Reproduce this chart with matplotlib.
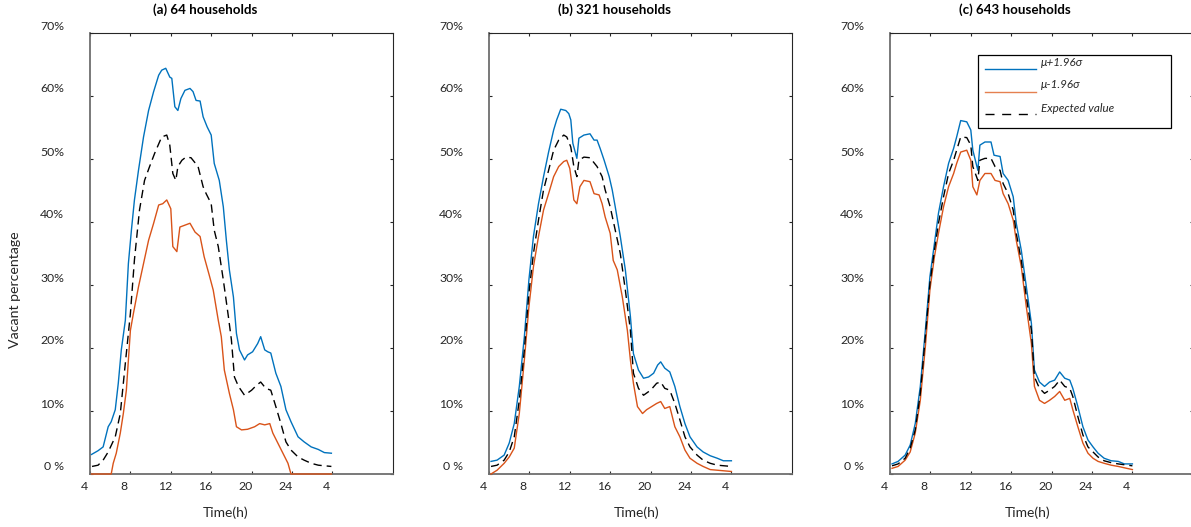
import matplotlib
matplotlib.use('Agg')
import matplotlib.pyplot as plt
from matplotlib.transforms import ScaledTranslation
from matplotlib.lines import Line2D
from matplotlib.patches import Rectangle

plt.rcParams['font.family'] = ['Lato', 'DejaVu Sans']

# ---------------- data (vacant percentage, %) ----------------
titles = ['(a) 64 households', '(b) 321 households', '(c) 643 households']
xtick_pos = [4, 8, 12, 16, 20, 24, 28]
xtick_labels = ['4', '8', '12', '16', '20', '24', '4']
ytick_pos = [0, 10, 20, 30, 40, 50, 60, 70]
ytick_labels = ['0 %', '10%', '20%', '30%', '40%', '50%', '60%', '70%']
legend_labels = ['\u03bc+1.96\u03c3', '\u03bc-1.96\u03c3', 'Expected value']

# panel (a)
a_hi_t = [4.15, 4.8, 5.3, 5.8, 6.1, 6.5, 6.8, 7.1, 7.5, 7.8, 8.1, 8.4, 8.8, 9.3, 9.8, 10.3, 10.8, 11.1, 11.5, 11.9,
          12.1, 12.4, 12.7, 13.0, 13.4, 13.9, 14.2, 14.5, 14.9, 15.2, 15.6, 16.0, 16.3, 16.8, 17.2, 17.5, 17.8, 18.2,
          18.5, 18.8, 19.3, 19.6, 20.1, 20.6, 20.9, 21.3, 21.6, 21.9, 22.4, 22.9, 23.4, 23.9, 24.6, 25.2, 25.9, 26.6,
          27.2, 27.9]
a_hi_v = [3.1, 3.7, 4.3, 7.5, 8.3, 10.2, 14.4, 19.7, 24.4, 33.4, 38.7, 43.5, 48.2, 53.5, 57.7, 60.7, 63.3, 64.1, 64.4,
          63.0, 62.8, 58.3, 57.7, 59.6, 60.9, 61.2, 60.7, 59.3, 59.2, 56.7, 55.1, 53.8, 49.3, 46.6, 42.4, 37.1, 32.4,
          28.1, 22.3, 19.7, 18.1, 18.9, 19.4, 20.7, 21.8, 19.7, 19.4, 19.2, 16.0, 13.9, 10.2, 8.3, 5.9, 5.1, 4.3, 3.9,
          3.4, 3.3]
a_mid_t = [4.2, 4.8, 5.3, 5.8, 6.5, 7.0, 7.5, 8.0, 8.4, 8.9, 9.4, 9.9, 10.4, 11.1, 11.6, 11.9, 12.2, 12.5, 12.7, 13.1,
           13.5, 14.0, 14.7, 15.2, 15.5, 16.0, 16.3, 16.7, 17.2, 17.7, 18.0, 18.3, 18.7, 19.3, 20.0, 20.5, 20.9, 21.4,
           21.9, 22.4, 22.9, 23.4, 23.9, 24.6, 25.2, 25.9, 26.6, 27.9]
a_mid_v = [1.2, 1.4, 2.2, 3.5, 5.9, 9.6, 17.6, 25.5, 34.0, 41.9, 46.6, 48.8, 50.9, 53.5, 53.8, 52.2, 47.7, 46.6, 48.8,
           49.8, 50.3, 50.2, 48.8, 45.6, 44.5, 42.9, 38.7, 36.1, 30.8, 25.0, 21.3, 15.4, 13.9, 12.5, 13.3, 14.1, 14.6,
           13.6, 13.3, 10.7, 8.0, 5.1, 3.8, 2.7, 2.2, 1.7, 1.4, 1.2]
a_lo_t = [4.15, 6.1, 6.3, 6.6, 7.0, 7.3, 7.6, 8.0, 8.3, 8.8, 9.3, 9.8, 10.3, 10.8, 11.2, 11.6, 12.0, 12.2, 12.6, 12.9,
          13.4, 13.9, 14.4, 14.9, 15.3, 15.8, 16.2, 16.7, 17.0, 17.3, 17.8, 18.2, 18.5, 19.0, 19.6, 20.3, 20.8, 21.3,
          21.8, 22.1, 22.6, 23.1, 23.6, 23.9, 27.9]
a_lo_v = [0, 0, 1.7, 3.3, 6.5, 9.6, 13.3, 22.8, 25.5, 29.7, 33.4, 37.1, 39.8, 42.7, 42.9, 43.5, 42.1, 36.1, 35.3, 39.2,
          39.5, 39.8, 38.4, 37.7, 34.5, 31.6, 29.2, 24.4, 21.8, 16.5, 12.8, 10.2, 7.5, 7.0, 7.1, 7.5, 8.0, 7.8, 8.0,
          6.5, 4.9, 3.3, 1.7, 0, 0]

# panel (b)
b_hi_t = [4.2, 4.8, 5.5, 6.0, 6.5, 7.0, 7.5, 7.95, 8.4, 8.9, 9.4, 9.9, 10.4, 10.7, 11.1, 11.6, 11.9, 12.1, 12.3, 12.7,
          12.9, 13.4, 14.0, 14.4, 14.7, 15.0, 15.4, 15.9, 16.2, 16.5, 17.0, 17.5, 18.0, 18.3, 18.8, 19.3, 19.8, 20.3,
          20.7, 21.0, 21.4, 21.9, 22.4, 22.9, 23.4, 23.9, 24.6, 25.2, 25.9, 26.6, 27.2, 28.0]
b_hi_v = [2.0, 2.2, 3.0, 4.9, 8.0, 13.9, 21.8, 30.8, 37.7, 42.9, 47.2, 51.1, 54.6, 56.2, 57.9, 57.7, 57.2, 56.2, 52.5,
          50.1, 53.3, 53.8, 54.0, 53.0, 53.0, 51.7, 49.8, 47.2, 45.1, 42.4, 37.7, 32.4, 25.0, 19.1, 16.5, 15.2, 15.4,
          16.0, 17.3, 17.8, 16.8, 16.2, 13.9, 10.7, 8.0, 5.9, 4.3, 3.5, 2.9, 2.5, 2.1, 2.1]
b_mid_t = [4.2, 4.8, 5.5, 6.0, 6.5, 7.0, 7.5, 7.95, 8.4, 8.9, 9.4, 9.9, 10.4, 10.9, 11.4, 11.7, 12.1, 12.4, 12.7, 12.9,
           13.4, 14.0, 14.7, 15.2, 15.5, 16.0, 16.5, 17.0, 17.5, 18.0, 18.3, 18.8, 19.3, 20.0, 20.6, 21.0, 21.4, 21.9,
           22.4, 22.9, 23.4, 23.9, 24.6, 25.2, 25.9, 26.6, 28.0]
b_mid_v = [1.2, 1.4, 2.2, 3.5, 5.9, 11.7, 19.7, 28.7, 35.0, 40.3, 45.1, 48.2, 51.4, 53.0, 53.8, 53.5, 51.9, 48.8, 47.2,
           49.8, 50.3, 50.2, 48.8, 47.2, 45.1, 42.4, 38.7, 35.0, 29.2, 22.8, 16.0, 13.6, 12.5, 13.3, 14.4, 14.6, 13.6,
           13.3, 11.2, 8.6, 5.9, 4.3, 3.0, 2.2, 1.7, 1.4, 1.2]
b_lo_t = [4.2, 4.8, 5.5, 6.0, 6.5, 7.0, 7.5, 7.95, 8.4, 8.9, 9.4, 9.9, 10.4, 10.9, 11.4, 11.7, 12.0, 12.2, 12.4, 12.7,
          13.0, 13.4, 14.0, 14.4, 14.9, 15.2, 15.5, 16.0, 16.3, 16.7, 17.2, 17.7, 18.0, 18.3, 18.7, 19.2, 19.6, 20.1,
          20.6, 21.0, 21.4, 21.9, 22.4, 22.9, 23.4, 23.9, 24.6, 25.2, 25.9, 26.6, 28.0]
b_lo_v = [0, 0.6, 1.7, 2.7, 4.1, 9.6, 18.1, 26.5, 32.9, 37.7, 41.9, 44.5, 47.2, 48.8, 49.6, 49.8, 48.5, 46.1, 43.5,
          42.9, 45.6, 46.6, 46.4, 44.5, 44.3, 42.9, 40.8, 38.2, 33.9, 32.4, 28.1, 22.8, 18.1, 14.4, 10.7, 9.6, 10.2,
          10.7, 11.2, 11.5, 10.4, 10.7, 7.5, 5.9, 3.8, 2.5, 1.7, 1.2, 0.7, 0.6, 0.4]

# panel (c)
c_hi_t = [4.2, 4.8, 5.5, 6.0, 6.5, 7.0, 7.5, 7.95, 8.4, 8.8, 9.3, 9.8, 10.3, 10.6, 11.0, 11.6, 12.0, 12.2, 12.7, 12.9,
          13.4, 14.0, 14.3, 14.9, 15.2, 15.7, 16.2, 16.5, 17.0, 17.5, 18.0, 18.3, 18.8, 19.3, 19.8, 20.3, 20.8, 21.3,
          21.8, 22.1, 22.6, 23.1, 23.6, 24.1, 24.6, 25.2, 25.9, 26.6, 27.2, 28.0]
c_hi_v = [1.6, 2.0, 3.0, 4.6, 8.0, 13.9, 22.8, 31.3, 36.6, 41.4, 45.6, 49.3, 51.7, 53.5, 56.1, 55.9, 54.6, 51.4, 48.2,
          52.2, 52.7, 52.7, 50.6, 50.4, 47.7, 46.6, 44.0, 39.8, 35.5, 29.7, 23.9, 16.5, 14.6, 13.9, 14.6, 14.9, 16.2,
          15.2, 14.9, 13.6, 10.7, 7.5, 5.4, 4.3, 3.3, 2.5, 2.1, 2.0, 1.6, 1.6]
c_mid_t = [4.2, 4.8, 5.5, 6.0, 6.5, 7.0, 7.5, 7.95, 8.4, 8.8, 9.3, 9.8, 10.3, 10.6, 11.0, 11.6, 12.0, 12.2, 12.7, 12.9,
           13.4, 14.0, 14.4, 14.9, 15.2, 15.7, 16.2, 16.5, 17.0, 17.5, 18.0, 18.3, 18.8, 19.3, 19.8, 20.3, 20.8, 21.3,
           21.8, 22.1, 22.6, 23.1, 23.6, 24.1, 24.6, 25.2, 25.9, 26.6, 28.0]
c_mid_v = [1.3, 1.6, 2.5, 4.1, 7.0, 12.8, 21.8, 30.2, 35.5, 39.8, 44.0, 47.7, 49.8, 51.4, 53.5, 53.4, 52.2, 48.8, 46.6,
           49.8, 50.1, 50.1, 48.8, 48.2, 46.1, 44.5, 41.9, 38.2, 33.9, 28.1, 22.8, 15.4, 13.6, 12.8, 13.3, 13.9, 14.9,
           13.9, 13.6, 12.3, 9.1, 6.2, 4.3, 3.5, 2.7, 2.1, 1.8, 1.6, 1.3]
c_lo_t = [4.2, 4.8, 5.5, 6.0, 6.5, 7.0, 7.5, 7.95, 8.4, 8.8, 9.3, 9.8, 10.3, 10.6, 11.0, 11.6, 12.0, 12.2, 12.6, 12.9,
          13.4, 14.0, 14.4, 14.9, 15.2, 15.7, 16.2, 16.5, 17.0, 17.5, 18.0, 18.3, 18.8, 19.3, 19.8, 20.3, 20.8, 21.3,
          21.8, 22.1, 22.6, 23.1, 23.6, 24.1, 24.6, 25.2, 25.9, 26.6, 28.0]
c_lo_v = [0.9, 1.2, 2.2, 3.5, 6.5, 11.7, 20.2, 29.2, 34.5, 38.2, 42.4, 45.6, 47.7, 49.3, 51.1, 51.4, 49.8, 45.6, 44.3,
          46.6, 47.7, 47.7, 46.6, 46.4, 44.5, 42.9, 40.3, 37.1, 32.9, 26.5, 20.7, 13.9, 11.7, 11.2, 11.7, 12.3, 13.1,
          11.7, 12.0, 10.2, 7.5, 4.9, 3.3, 2.5, 2.0, 1.7, 1.4, 1.2, 0.7]

# ---------------- styling ----------------
W, H = 1191, 527
BLUE = '#0072BD'
ORANGE = '#D95319'
TXT = '#262626'


def px(x, y):
    return x / W, 1 - y / H


fig = plt.figure(figsize=(W / 100, H / 100), dpi=100)

series = [
    (a_hi_t, a_hi_v, a_lo_t, a_lo_v, a_mid_t, a_mid_v),
    (b_hi_t, b_hi_v, b_lo_t, b_lo_v, b_mid_t, b_mid_v),
    (c_hi_t, c_hi_v, c_lo_t, c_lo_v, c_mid_t, c_mid_v),
]
lefts = [90, 489, 890]
title_x = [205, 615, 1015]
xlabel_x = [226, 637, 1028]
ax_w, ax_top, ax_bot = 303, 33, 474

for i, (ht, hv, lt, lv, mt, mv) in enumerate(series):
    l = lefts[i]
    ax = fig.add_axes([l / W, 1 - ax_bot / H, ax_w / W, (ax_bot - ax_top) / H])
    ax.plot(ht, hv, color=BLUE, lw=1.0, zorder=3, clip_on=False)
    ax.plot(lt, lv, color=ORANGE, lw=1.0, zorder=3, clip_on=False)
    ax.plot(mt, mv, color='black', lw=1.0, dashes=(6, 3.6), zorder=3, clip_on=False)
    ax.set_xlim(4, 34)
    ax.set_ylim(0, 70)
    ax.set_xticks(xtick_pos)
    ax.set_xticklabels(xtick_labels)
    ax.set_yticks(ytick_pos)
    ax.set_yticklabels(ytick_labels)
    ax.tick_params(axis='both', direction='in', length=2.5, width=0.8, color=TXT,
                   top=True, right=True, labelsize=8.8, labelcolor=TXT)
    ax.tick_params(axis='y', pad=18.5)
    ax.tick_params(axis='x', pad=5)
    for lab in ax.get_yticklabels():
        lab.set_transform(lab.get_transform() + ScaledTranslation(0, 8 / 100, fig.dpi_scale_trans))
    for lab in ax.get_xticklabels():
        lab.set_transform(lab.get_transform() + ScaledTranslation(-6 / 100, 0, fig.dpi_scale_trans))
    for s in ['top', 'right']:
        ax.spines[s].set_color(TXT)
        ax.spines[s].set_linewidth(0.8)
    for s in ['left', 'bottom']:
        ax.spines[s].set_color('#6e6e6e')
        ax.spines[s].set_linewidth(1.3)
    fig.text(*px(title_x[i], 10), titles[i], ha='center', va='center',
             fontsize=9.6, fontweight='bold', color='black')
    fig.text(*px(xlabel_x[i], 513), 'Time(h)', ha='center', va='center',
             fontsize=10, color=TXT)

fig.text(*px(15, 290), 'Vacant percentage', rotation=90, ha='center', va='center',
         fontsize=10.2, color=TXT)

# legend drawn in panel (c)
x0, y0 = px(978, 128)
x1, y1 = px(1171, 55)
fig.add_artist(Rectangle((x0, y0), x1 - x0, y1 - y0, transform=fig.transFigure,
                         facecolor='white', edgecolor='black', lw=0.9, zorder=5))
handle_styles = [dict(color=BLUE), dict(color='#E58050'), dict(color='black', dashes=(6.5, 5.5))]
line_y = [69, 92, 114]
text_y = [62, 84, 108]
for lbl, st, ly, ty in zip(legend_labels, handle_styles, line_y, text_y):
    xa, ya = px(985, ly)
    xb, _ = px(1036, ly)
    fig.add_artist(Line2D([xa, xb], [ya, ya], transform=fig.transFigure, lw=1.0, zorder=6, **st))
    fig.text(*px(1041, ty), lbl, ha='left', va='center', fontsize=8.4, style='italic',
             color=TXT, zorder=7)

fig.savefig('out.png', dpi=100)
